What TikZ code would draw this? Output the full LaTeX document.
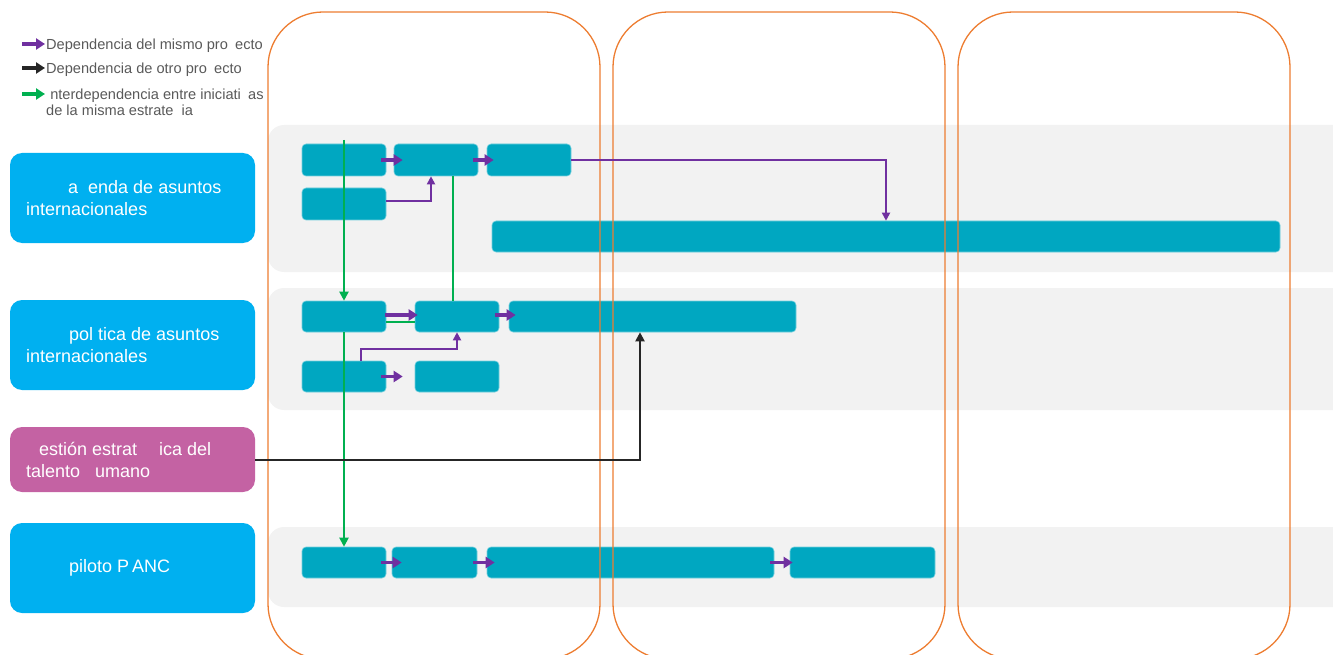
\documentclass[tikz,border=0pt]{standalone}
\usepackage{fontspec}
\setmainfont{Liberation Sans}
\usetikzlibrary{arrows.meta}
\definecolor{lblue}{HTML}{00B0F0}
\definecolor{mag}{HTML}{C462A3}
\definecolor{tealbox}{HTML}{00A7C1}
\definecolor{bandgray}{HTML}{F2F2F2}
\definecolor{orng}{HTML}{ED7D31}
\definecolor{purp}{HTML}{7030A0}
\definecolor{grn}{HTML}{00B050}
\definecolor{blk}{HTML}{262626}
\definecolor{legtxt}{HTML}{595959}
\begin{document}
\begin{tikzpicture}[x=1pt,y=-1pt,
  band/.style={fill=bandgray, draw=none, rounded corners=16pt},
  column/.style={draw=orng, line width=1.3pt, rounded corners=55pt},
  task/.style={fill=tealbox, draw=tealbox!55!white, line width=0.6pt, rounded corners=4pt, inner sep=0pt},
  lbox/.style={draw=none, rounded corners=12pt, inner sep=0pt, minimum width=245pt},
  ltext/.style={text=white, font=\fontsize{18}{22}\selectfont, align=left, anchor=west, inner sep=0pt},
  legtext/.style={text=legtxt, font=\fontsize{14.6}{16}\selectfont, align=left, anchor=west, inner sep=0pt},
  parr/.style={draw=purp, line width=3.5pt, -{Triangle[length=9pt,width=11pt]}},
  plin/.style={draw=purp, line width=1.8pt, -{Triangle[length=8pt,width=8pt]}},
  garr/.style={draw=grn, line width=2pt, -{Triangle[length=9pt,width=9pt]}},
  glin/.style={draw=grn, line width=2pt},
  barr/.style={draw=blk, line width=2pt, -{Triangle[length=9pt,width=9pt]}},
  legarr/.style={line width=3.5pt, -{Triangle[length=9pt,width=11pt]}}
]
\useasboundingbox (0,0) rectangle (1333,655);

% gray bands
\path[band] (268,125) rectangle (1350,272);
\path[band] (268,288) rectangle (1350,410);
\path[band] (268,527) rectangle (1350,607);

% left category boxes
\node[lbox, fill=lblue, minimum height=90pt] (L1) at (132.5,198) {};
\node[lbox, fill=lblue, minimum height=90pt] (L2) at (132.5,345) {};
\node[lbox, fill=mag, minimum height=65pt] (L3) at (132.5,459.5) {};
\node[lbox, fill=lblue, minimum height=90pt] (L4) at (132.5,568) {};

\node[ltext] (T1) at (26,198) {\hspace*{42pt}a\phantom{g}enda de asuntos\\internacionales};
\node[ltext] (T2) at (26,345) {\hspace*{43pt}pol\phantom{í}tica de asuntos\\internacionales};
\node[ltext] (T3) at (26,460) {\hspace*{13pt}esti\'on estrat\hspace{22pt}ica del\\talento \phantom{h}umano};
\node[ltext] (T4) at (26,568) {\hspace*{43pt}piloto P\hspace{3pt}ANC};

% task boxes
\node[task, minimum width=84pt, minimum height=32pt] (A1) at (344,160) {};
\node[task, minimum width=84pt, minimum height=32pt] (A2) at (436,160) {};
\node[task, minimum width=84pt, minimum height=32pt] (A3) at (529,160) {};
\node[task, minimum width=84pt, minimum height=32pt] (A4) at (344,204) {};
\node[task, minimum width=788pt, minimum height=31pt] (A5) at (886,236.5) {};

\node[task, minimum width=84pt, minimum height=31pt] (B1) at (344,316.5) {};
\node[task, minimum width=84pt, minimum height=31pt] (B2) at (457,316.5) {};
\node[task, minimum width=287pt, minimum height=31pt] (B3) at (652.5,316.5) {};
\node[task, minimum width=84pt, minimum height=31pt] (B4) at (344,376.5) {};
\node[task, minimum width=84pt, minimum height=31pt] (B5) at (457,376.5) {};

\node[task, minimum width=84pt, minimum height=31pt] (D1) at (344,562.5) {};
\node[task, minimum width=85pt, minimum height=31pt] (D2) at (434.5,562.5) {};
\node[task, minimum width=287pt, minimum height=31pt] (D3) at (630.5,562.5) {};
\node[task, minimum width=145pt, minimum height=31pt] (D4) at (862.5,562.5) {};

% orange phase columns
\draw[column] (268,12) rectangle (600,659);
\draw[column] (613,12) rectangle (945,659);
\draw[column] (958,12) rectangle (1290,659);

% helper coordinates
\coordinate (gtop) at (344,140);
\coordinate (gx) at (453,0);
\coordinate (kx) at (431,0);
\coordinate (kb) at (457,349);
\coordinate (kk) at (640,0);

% green interdependencies
\draw[garr] (gtop) -- (B1.north);
\draw[garr] (B1.south) -- (D1.north);
\draw[glin] (gx |- A2.south) -- (gx |- B2.north);
\draw[glin] ([yshift=-5pt]B1.east) -- ([yshift=-5pt]B2.west);

% purple dependencies
\draw[parr] ([xshift=-5pt]A1.east) -- ([xshift=9pt]A2.west);
\draw[parr] ([xshift=-5pt]A2.east) -- ([xshift=7pt]A3.west);
\draw[plin] (A3.east) -| (A5.north);
\draw[plin] ([yshift=3pt]A4.east) -| (kx |- A2.south);
\draw[parr] ([xshift=-1pt,yshift=1.5pt]B1.east) -- ([xshift=3pt,yshift=1.5pt]B2.west);
\draw[parr] ([xshift=-4pt,yshift=1.5pt]B2.east) -- ([xshift=7pt,yshift=1.5pt]B3.west);
\draw[parr] ([xshift=-5pt]B4.east) -- ([xshift=-12pt]B5.west);
\draw[plin] ([xshift=17pt]B4.north) |- (kb) -- (B2.south);
\draw[parr] ([xshift=-5pt]D1.east) -- ([xshift=10pt]D2.west);
\draw[parr] ([xshift=-4pt]D2.east) -- ([xshift=8pt]D3.west);
\draw[parr] ([xshift=-4pt]D3.east) -- ([xshift=3pt]D4.west);

% black dependency
\draw[barr] (L3.east) -| (kk |- B3.south);

% legend
\node[legtext] (leg1) at (46,45.5) {Dependencia del mismo pro\phantom{y}ecto};
\node[legtext] (leg2) at (46,69.5) {Dependencia de otro pro\phantom{y}ecto};
\node[legtext] (leg3) at (46,103.5) {\phantom{I}nterdependencia entre iniciati\phantom{v}as\\de la misma estrate\phantom{g}ia};
\coordinate (ls1) at (22,44);
\coordinate (ls2) at (22,68);
\coordinate (ls3) at (22,94);
\coordinate (le1) at (45,44);
\coordinate (le2) at (45,68);
\coordinate (le3) at (45,94);
\draw[legarr, purp] (ls1) -- (le1);
\draw[legarr, blk] (ls2) -- (le2);
\draw[legarr, grn] (ls3) -- (le3);
\end{tikzpicture}
\end{document}
